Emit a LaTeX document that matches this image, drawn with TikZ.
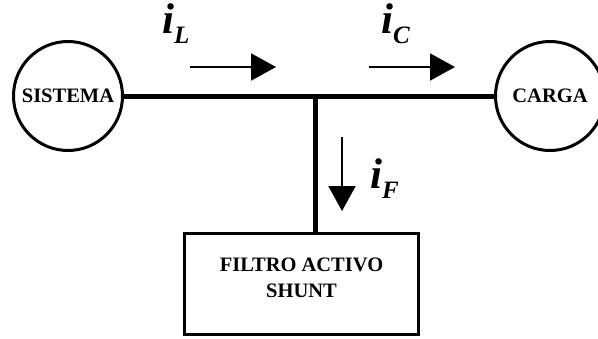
\documentclass[tikz,border=0pt]{standalone}
\usepackage{fontspec}
\setmainfont{Liberation Serif}
\usetikzlibrary{arrows.meta}
\tikzset{
  endpoint/.style={circle, draw, line width=3pt, minimum size=109pt, inner sep=0pt, font=\fontsize{20.5}{24}\selectfont\bfseries},
  filterbox/.style={rectangle, draw, line width=3.5pt, minimum width=234pt, minimum height=101pt, inner sep=0pt},
  bus/.style={line width=5pt},
  flow/.style={line width=2pt, -{Triangle[length=25pt,width=27pt]}},
  curlabel/.style={anchor=base west, inner sep=0pt, font=\fontsize{43}{45}\selectfont\bfseries\itshape}
}
\newcommand{\cursub}[1]{\raisebox{-10.5pt}{\fontsize{25}{25}\selectfont #1}}
\begin{document}
\begin{tikzpicture}[x=1pt,y=-1pt]
\useasboundingbox (0,0) rectangle (598,338);
\node[endpoint] (sis) at (68,96) {SISTEMA};
\node[endpoint] (car) at (550,96) {CARGA};
\node[filterbox, label={[align=center, yshift=6pt, font=\fontsize{20.5}{26}\selectfont\bfseries]center:FILTRO ACTIVO\\SHUNT}] (fil) at (301.5,284) {};
\coordinate (j) at (315,96);
\draw[bus] (sis.east) -- (car.west);
\draw[bus] (j) -- (j |- fil.north);
\coordinate (aL1) at (190,67);
\coordinate (aL2) at (276,67);
\coordinate (aC1) at (369,67);
\coordinate (aC2) at (455,67);
\coordinate (aF1) at (342,137);
\coordinate (aF2) at (342,211);
\draw[flow] (aL1) -- (aL2);
\draw[flow] (aC1) -- (aC2);
\draw[flow] (aF1) -- (aF2);
\node[curlabel] (lL) at (162,33) {i\cursub{L}};
\node[curlabel] (lC) at (381,33) {i\cursub{C}};
\node[curlabel] (lF) at (370,188) {i\cursub{F}};
\end{tikzpicture}
\end{document}
